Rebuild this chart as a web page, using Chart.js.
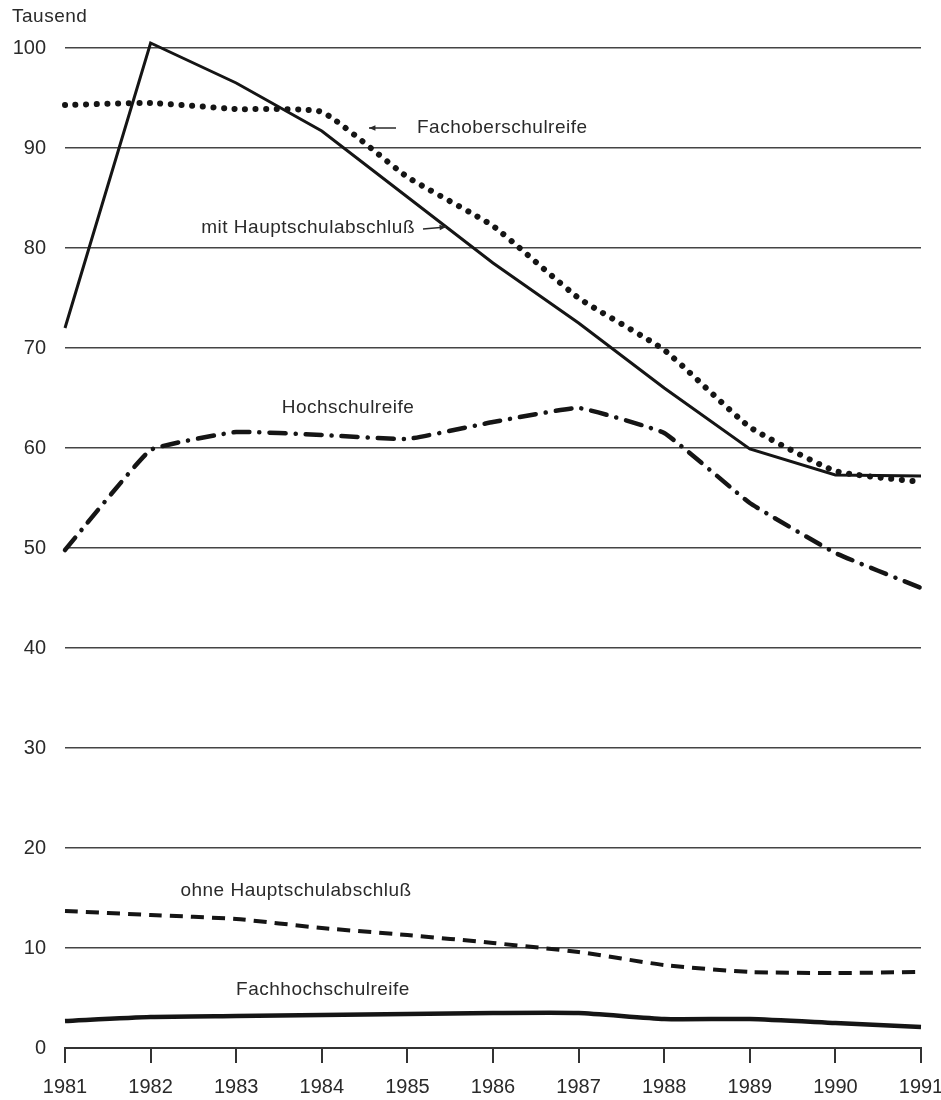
<!DOCTYPE html>
<html>
<head>
<meta charset="utf-8">
<script src="https://cdn.jsdelivr.net/npm/chart.js@4.4.1/dist/chart.umd.min.js"></script>
<style>
  body { margin: 0; background: #fff; }
  #wrap { width: 941px; height: 1100px; }
</style>
</head>
<body>
<div id="wrap"><canvas id="schulChart" width="941" height="1100"></canvas></div>
<script>
// Schulabgänger nach Abschlussart, in Tausend
const years = ['1981', '1982', '1983', '1984', '1985', '1986', '1987', '1988', '1989', '1990', '1991'];
const mitHauptschul = [72.0, 100.5, 96.5, 91.7, 85.1, 78.5, 72.5, 66.0, 59.9, 57.3, 57.2];
const fachoberschul = [94.3, 94.5, 93.9, 93.6, 87.1, 82.2, 75.0, 69.8, 62.1, 57.7, 56.6];
const hochschul = [49.8, 59.8, 61.6, 61.3, 60.9, 62.6, 64.0, 61.5, 54.5, 49.5, 46.0];
const ohneHauptschul = [13.7, 13.3, 12.9, 12.0, 11.3, 10.5, 9.6, 8.3, 7.6, 7.5, 7.6];
const fachhochschul = [2.7, 3.1, 3.2, 3.3, 3.4, 3.5, 3.5, 2.9, 2.9, 2.5, 2.1];

const ink = '#151515';
const textCol = '#2a2a2a';
const font = '"Liberation Sans", Arial, sans-serif';

function arrow(ctx, x1, y1, x2, y2) {
  // shaft from (x1,y1) to head at (x2,y2)
  const a = Math.atan2(y2 - y1, x2 - x1);
  ctx.beginPath();
  ctx.moveTo(x1, y1);
  ctx.lineTo(x2, y2);
  ctx.stroke();
  ctx.beginPath();
  ctx.moveTo(x2, y2);
  ctx.lineTo(x2 - 7 * Math.cos(a - 0.4), y2 - 7 * Math.sin(a - 0.4));
  ctx.lineTo(x2 - 7 * Math.cos(a + 0.4), y2 - 7 * Math.sin(a + 0.4));
  ctx.closePath();
  ctx.fill();
}

const labelsPlugin = {
  id: 'labelsPlugin',
  afterDraw(chart) {
    const ctx = chart.ctx;
    ctx.save();
    ctx.fillStyle = textCol;
    ctx.strokeStyle = textCol;
    ctx.lineWidth = 1.5;
    ctx.textBaseline = 'middle';
    ctx.font = '19px ' + font;
    ctx.letterSpacing = '0.5px';

    ctx.textAlign = 'left';
    ctx.fillText('Tausend', 12, 17);

    ctx.fillText('Fachoberschulreife', 417, 128);
    arrow(ctx, 396, 128, 369, 128);

    ctx.textAlign = 'right';
    ctx.fillText('mit Hauptschulabschluß', 415, 228);
    arrow(ctx, 423, 229, 446, 227);

    ctx.textAlign = 'center';
    ctx.fillText('Hochschulreife', 348, 408);
    ctx.fillText('ohne Hauptschulabschluß', 296, 891);
    ctx.fillText('Fachhochschulreife', 323, 990);
    ctx.restore();
  }
};

const ctx = document.getElementById('schulChart').getContext('2d');
new Chart(ctx, {
  type: 'line',
  data: {
    labels: years,
    datasets: [
      {
        label: 'mit Hauptschulabschluß',
        data: mitHauptschul,
        borderColor: ink,
        borderWidth: 3,
        tension: 0,
        clip: false
      },
      {
        label: 'Fachoberschulreife',
        data: fachoberschul,
        borderColor: ink,
        borderWidth: 6,
        borderDash: [0.1, 10.5],
        borderCapStyle: 'round',
        tension: 0.15,
        clip: false
      },
      {
        label: 'Hochschulreife',
        data: hochschul,
        borderColor: ink,
        borderWidth: 4.5,
        borderDash: [16, 10, 0.1, 10],
        borderCapStyle: 'round',
        tension: 0.1,
        clip: false
      },
      {
        label: 'ohne Hauptschulabschluß',
        data: ohneHauptschul,
        borderColor: ink,
        borderWidth: 4,
        borderDash: [13, 8],
        tension: 0.2,
        clip: false
      },
      {
        label: 'Fachhochschulreife',
        data: fachhochschul,
        borderColor: ink,
        borderWidth: 4.5,
        tension: 0.2,
        clip: false
      }
    ]
  },
  options: {
    responsive: false,
    animation: false,
    devicePixelRatio: 1,
    elements: { point: { radius: 0 } },
    layout: { padding: { top: 48, right: 20, left: 0, bottom: 0 } },
    plugins: {
      legend: { display: false },
      tooltip: { enabled: false },
      title: { display: false }
    },
    scales: {
      x: {
        offset: false,
        grid: {
          drawOnChartArea: false,
          drawTicks: true,
          tickLength: 15,
          color: '#333',
          lineWidth: 2
        },
        border: { display: true, color: '#333', width: 2 },
        ticks: {
          autoSkip: false,
          maxRotation: 0,
          padding: 12,
          color: textCol,
          font: { size: 20, family: font }
        },
        afterFit: (s) => {
          s.height = 52;
          s.paddingLeft = 0;
          s.paddingRight = 0;
        }
      },
      y: {
        min: 0,
        max: 100,
        grid: {
          drawTicks: false,
          color: '#444',
          lineWidth: 1.5
        },
        border: { display: false },
        ticks: {
          stepSize: 10,
          padding: 19,
          color: textCol,
          font: { size: 20, family: font }
        },
        afterFit: (s) => { s.width = 65; }
      }
    }
  },
  plugins: [labelsPlugin]
});
</script>
</body>
</html>
